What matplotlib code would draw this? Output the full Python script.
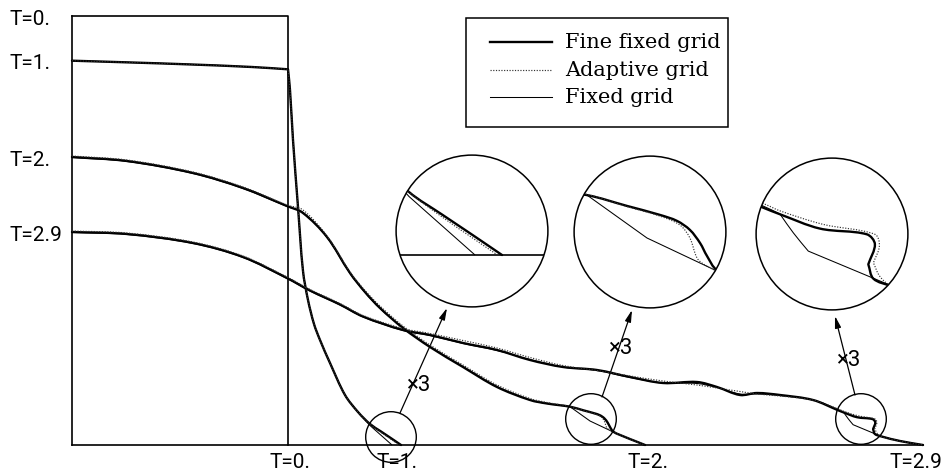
import math
import matplotlib
matplotlib.use("Agg")
import matplotlib.pyplot as plt
from matplotlib.path import Path
from matplotlib.patches import Circle, PathPatch, Rectangle

# distance along the channel / water depth, gate at x = 2.16, initial depth 4.29
t0_x = [0.0, 2.16, 2.16]
t0_h = [4.29, 4.29, 0.0]

# T = 1 : common part, then the three solutions near the front
t1_x = [0.0, 0.6, 1.2, 1.8, 2.16, 2.18, 2.21, 2.26, 2.31, 2.36, 2.42, 2.48, 2.58, 2.73, 2.86]
t1_h = [3.843, 3.825, 3.805, 3.78, 3.757, 3.55, 3.05, 2.38, 1.74, 1.45, 1.21, 1.05, 0.82, 0.50, 0.33]
t1_fine_x = [2.98, 3.09, 3.19, 3.29]
t1_fine_h = [0.21, 0.135, 0.068, 0.0]
t1_adapt_x = [2.98, 3.09, 3.19, 3.275]
t1_adapt_h = [0.21, 0.127, 0.058, 0.0]
t1_fixed_x = [2.98, 3.20]
t1_fixed_h = [0.195, 0.0]

# T = 2
t2_x = [0.0, 0.55, 1.21, 1.71, 2.15, 2.31, 2.55, 2.78, 2.93, 3.08, 3.31, 3.58, 3.91, 4.25, 4.58, 4.75, 4.98]
t2_fine_h = [2.88, 2.84, 2.72, 2.57, 2.39, 2.32, 2.08, 1.72, 1.53, 1.37, 1.17, 0.98, 0.78, 0.58, 0.45, 0.415, 0.383]
t2_adapt_h = [2.89, 2.85, 2.73, 2.58, 2.40, 2.35, 2.09, 1.73, 1.545, 1.39, 1.19, 1.0, 0.80, 0.60, 0.465, 0.425, 0.385]
t2_fixed_h = [2.875, 2.835, 2.715, 2.565, 2.385, 2.325, 2.075, 1.715, 1.525, 1.365, 1.175, 0.985, 0.785, 0.585, 0.45, 0.415, 0.383]
t2_fine_tx = [5.113, 5.223, 5.28, 5.323, 5.357, 5.38, 5.413, 5.53, 5.63, 5.73]
t2_fine_th = [0.347, 0.317, 0.297, 0.267, 0.223, 0.18, 0.133, 0.08, 0.04, 0.0]
t2_adapt_tx = [5.113, 5.223, 5.29, 5.323, 5.347, 5.373, 5.413, 5.53, 5.63, 5.73]
t2_adapt_th = [0.345, 0.313, 0.283, 0.24, 0.173, 0.15, 0.13, 0.08, 0.04, 0.0]
t2_fixed_tx = [5.18, 5.413, 5.53, 5.63, 5.73]
t2_fixed_th = [0.24, 0.13, 0.08, 0.04, 0.0]

# T = 2.9
t3_x = [0.0, 0.55, 1.21, 1.71, 2.15, 2.38, 2.68, 2.91, 3.31, 3.58, 3.91, 4.25, 4.58,
        4.91, 5.25, 5.58, 5.91, 6.25, 6.45, 6.68, 6.85, 7.08, 7.41]
t3_fine_h = [2.13, 2.11, 2.02, 1.88, 1.67, 1.545, 1.405, 1.285, 1.15, 1.10, 1.02, 0.95, 0.85,
             0.78, 0.75, 0.68, 0.62, 0.63, 0.58, 0.50, 0.52, 0.50, 0.45]
t3_adapt_h = [2.14, 2.12, 2.03, 1.89, 1.68, 1.555, 1.415, 1.295, 1.165, 1.115, 1.045, 0.97, 0.875,
              0.795, 0.745, 0.69, 0.64, 0.60, 0.57, 0.535, 0.51, 0.49, 0.45]
t3_fixed_h = [2.125, 2.105, 2.015, 1.875, 1.665, 1.54, 1.40, 1.28, 1.145, 1.095, 1.015, 0.945, 0.855,
              0.78, 0.745, 0.675, 0.62, 0.615, 0.575, 0.51, 0.51, 0.495, 0.45]
t3_fine_tx = [7.66, 7.716, 7.85, 8.006, 8.033, 8.011, 8.028, 8.089, 8.28, 8.51]
t3_fine_th = [0.348, 0.326, 0.278, 0.259, 0.226, 0.159, 0.111, 0.087, 0.04, 0.0]
t3_adapt_tx = [7.667, 7.717, 7.861, 8.033, 8.048, 8.028, 8.05, 8.089, 8.28, 8.51]
t3_adapt_th = [0.359, 0.337, 0.292, 0.259, 0.22, 0.164, 0.118, 0.087, 0.04, 0.0]
t3_fixed_tx = [7.661, 7.717, 7.761, 7.811, 8.089, 8.28, 8.51]
t3_fixed_th = [0.353, 0.326, 0.264, 0.203, 0.087, 0.04, 0.0]

time_labels = ["T=0.", "T=1.", "T=2.", "T=2.9"]
legend_labels = ["Fine fixed grid", "Adaptive grid", "Fixed grid"]

# magnified windows: small circle centre, big circle centre
zooms = [((3.19, 0.08), (4.00, 2.14)),
         ((5.19, 0.26), (5.78, 2.13)),
         ((7.89, 0.26), (7.60, 2.11))]
zoom_factor = 3
r_small = 0.253
# arrow start / end and "x3" label position per window
arrows = [((3.28, 0.32), (3.75, 1.37), (3.465, 0.595)),
          ((5.30, 0.48), (5.60, 1.35), (5.48, 0.97)),
          ((7.83, 0.50), (7.63, 1.29), (7.76, 0.85))]

fine_style = dict(ec="black", lw=1.7, capstyle="round", joinstyle="round", zorder=3)
adapt_style = dict(ec="0.2", lw=0.85, ls=(0, (1, 1.3)), zorder=5)
fixed_style = dict(ec="black", lw=0.75, zorder=4)
frame_style = dict(color="black", lw=1.2, zorder=2)

n1, n2, n3 = len(t1_x), len(t2_x), len(t3_x)
# (x, h, corner indices, style)
series = [
    (t1_x + t1_fine_x, t1_h + t1_fine_h, {4}, fine_style),
    (t2_x + t2_fine_tx, t2_fine_h + t2_fine_th, set(), fine_style),
    (t3_x + t3_fine_tx, t3_fine_h + t3_fine_th, {n3 + 5}, fine_style),
    (t1_x + t1_fixed_x, t1_h + t1_fixed_h, {4, n1}, fixed_style),
    (t2_x + t2_fixed_tx, t2_fixed_h + t2_fixed_th, {n2 - 1, n2, n2 + 1}, fixed_style),
    (t3_x + t3_fixed_tx, t3_fixed_h + t3_fixed_th, {n3 + 1, n3 + 3, n3 + 4}, fixed_style),
    (t1_x + t1_adapt_x, t1_h + t1_adapt_h, {4}, adapt_style),
    (t2_x + t2_adapt_tx, t2_adapt_h + t2_adapt_th, set(), adapt_style),
    (t3_x + t3_adapt_tx, t3_adapt_h + t3_adapt_th, {n3 + 5}, adapt_style),
]
x_end = series[2][0][-1]


def smooth_path(x, h, corners=()):
    # cubic Bezier through the points, chord-length tangents, sharp at corners
    n = len(x)
    d = [math.hypot(x[i + 1] - x[i], h[i + 1] - h[i]) for i in range(n - 1)]
    t_in, t_out = [], []
    for i in range(n):
        if i == 0:
            a = b = ((x[1] - x[0]) / d[0], (h[1] - h[0]) / d[0])
        elif i == n - 1:
            a = b = ((x[i] - x[i - 1]) / d[i - 1], (h[i] - h[i - 1]) / d[i - 1])
        elif i in corners:
            a = ((x[i] - x[i - 1]) / d[i - 1], (h[i] - h[i - 1]) / d[i - 1])
            b = ((x[i + 1] - x[i]) / d[i], (h[i + 1] - h[i]) / d[i])
        else:
            s = d[i - 1] + d[i]
            a = b = ((x[i + 1] - x[i - 1]) / s, (h[i + 1] - h[i - 1]) / s)
        t_in.append(a)
        t_out.append(b)
    verts = [(x[0], h[0])]
    codes = [Path.MOVETO]
    for i in range(n - 1):
        k = d[i] / 3
        verts += [(x[i] + t_out[i][0] * k, h[i] + t_out[i][1] * k),
                  (x[i + 1] - t_in[i + 1][0] * k, h[i + 1] - t_in[i + 1][1] * k),
                  (x[i + 1], h[i + 1])]
        codes += [Path.CURVE4] * 3
    return verts, codes


paths = [(smooth_path(x, h, c), st) for x, h, c, st in series]

fig = plt.figure(figsize=(9.5, 4.72), dpi=100)
ax = fig.add_axes([0, 0, 1, 1])
ax.set_xlim(-0.72, 8.78)
ax.set_ylim(-0.27, 4.45)
ax.axis("off")


def draw_all(tf, clip=None):
    frame = [([0, 0], [0, t0_h[0]]), ([0, x_end], [0, 0]), (t0_x, t0_h)]
    for x, h in frame:
        pts = [tf(a, b) for a, b in zip(x, h)]
        ln, = ax.plot([p[0] for p in pts], [p[1] for p in pts], **frame_style)
        if clip is not None:
            ln.set_clip_path(clip)
    for (verts, codes), st in paths:
        pp = PathPatch(Path([tf(a, b) for a, b in verts], codes), fill=False, **st)
        ax.add_patch(pp)
        if clip is not None:
            pp.set_clip_path(clip)


draw_all(lambda a, b: (a, b))

for (c, b), (a0, a1, lab) in zip(zooms, arrows):
    ax.add_patch(Circle(c, r_small, fill=False, ec="black", lw=1.0, zorder=6))
    big = Circle(b, r_small * zoom_factor, fc="white", ec="none", zorder=1)
    ax.add_patch(big)
    ax.add_patch(Circle(b, r_small * zoom_factor, fill=False, ec="black", lw=1.1, zorder=7))

    def tf(x, h, c=c, b=b):
        return b[0] + zoom_factor * (x - c[0]), b[1] + zoom_factor * (h - c[1])

    draw_all(tf, clip=big)
    ax.annotate("", xy=a1, xytext=a0,
                arrowprops=dict(arrowstyle="-|>,head_length=0.7,head_width=0.18",
                                lw=0.9, color="black", shrinkA=0, shrinkB=0))
    ax.text(lab[0], lab[1], "×3", fontsize=16, family="Roboto",
            ha="center", va="center", zorder=8)

# time labels: start depth on the left, front position at the bottom
left_h = [t0_h[0]] + [s[1][0] for s in series[:3]]
front_x = [t0_x[-1]] + [s[0][-1] for s in series[:3]]
bottom_dx = [0.02, -0.04, 0.03, -0.07]
for lab, hh, fx, dx in zip(time_labels, left_h, front_x, bottom_dx):
    ax.text(-0.62, hh - 0.03, lab, fontsize=15, family="Roboto",
            ha="left", va="center")
    ax.text(fx + dx, -0.17, lab, fontsize=15, family="Roboto",
            ha="center", va="center")

# legend box
ax.add_patch(Rectangle((3.94, 3.18), 2.62, 1.09, fc="white", ec="black", lw=1.1, zorder=10))
row_h = [4.03, 3.75, 3.48]
for st, lab, yy in zip([fine_style, adapt_style, fixed_style], legend_labels, row_h):
    kw = dict(color=st["ec"], lw=st["lw"], zorder=11)
    if "ls" in st:
        kw["ls"] = st["ls"]
    ax.plot([4.18, 4.80], [yy, yy], **kw)
    ax.text(4.93, yy, lab, fontsize=15, family="DejaVu Serif", ha="left", va="center", zorder=11)

fig.savefig("out.png", dpi=100)
